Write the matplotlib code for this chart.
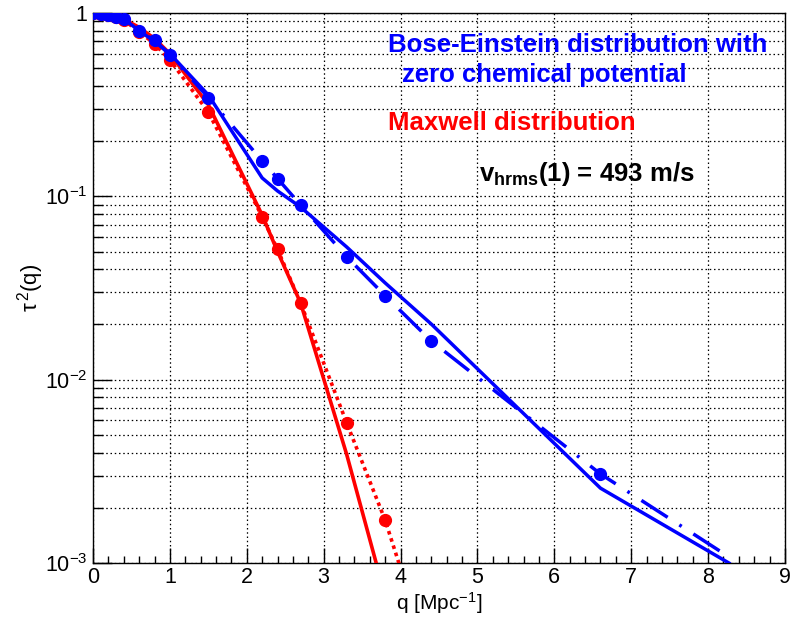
import matplotlib
matplotlib.use("Agg")
import matplotlib.pyplot as plt
import matplotlib.ticker as ticker
import numpy as np

plt.rcParams['font.family'] = ['Liberation Sans', 'DejaVu Sans']
plt.rcParams['mathtext.fontset'] = 'custom'
plt.rcParams['mathtext.rm'] = 'Liberation Sans'
plt.rcParams['mathtext.it'] = 'Liberation Sans:italic'
plt.rcParams['mathtext.bf'] = 'Liberation Sans:bold'

# measured points
q_pts = [0, 0.1, 0.2, 0.3, 0.4, 0.6, 0.8, 1.0, 1.5, 2.2, 2.4, 2.7, 3.3, 3.8, 4.4, 6.6]
bose_pts = [1.0, 0.991, 0.975, 0.955, 0.925, 0.80, 0.71, 0.59, 0.346, 0.156, 0.125,
            0.0897, 0.0468, 0.0287, 0.01625, 0.00306]
maxw_pts = [1.0, 0.99, 0.975, 0.95, 0.915, 0.79, 0.68, 0.555, 0.288, 0.0775, 0.0514,
            0.0262, 0.0058, 0.00171]

# model curves (solid)
q_bose_model = [0, 0.1, 0.2, 0.3, 0.4, 0.6, 0.8, 1.0, 1.5, 2.2, 2.4, 2.7, 3.3, 3.8, 4.4, 6.6, 8.27]
bose_model = [1.0, 0.99, 0.975, 0.955, 0.93, 0.80, 0.70, 0.60, 0.357, 0.126, 0.107,
              0.0874, 0.0529, 0.0337, 0.0201, 0.00256, 0.00100]
q_maxw_model = [0, 0.1, 0.2, 0.3, 0.4, 0.6, 0.8, 1.0, 1.5, 2.2, 2.4, 2.7, 3.3, 3.8]
maxw_model = [1.0, 0.995, 0.98, 0.955, 0.925, 0.835, 0.725, 0.60, 0.316, 0.079, 0.050,
              0.0262, 0.0039, 0.00066]

# fits through the points (dash-dot / dotted)
q_bose_fit = q_pts + [8.27]
bose_fit = bose_pts + [0.00108]
q_maxw_fit = q_pts[:14] + [4.4]
maxw_fit = maxw_pts + [0.00028]

blue = '#0000ff'
red = '#ff0000'

fig = plt.figure(figsize=(7.92, 6.2), dpi=100)
ax = fig.add_axes([93 / 792, 1 - 563 / 620, 692 / 792, 550 / 620])

ax.plot(q_maxw_model, maxw_model, color=red, lw=2.6, zorder=3)
ax.plot(q_maxw_fit, maxw_fit, color=red, lw=2.6, ls=(0, (1.0, 1.1)), zorder=3)
ax.plot(q_pts[:14], maxw_pts, 'o', color=red, ms=8.5, zorder=4)

ax.plot(q_bose_model, bose_model, color=blue, lw=2.5, zorder=5)
ax.plot(q_bose_fit, bose_fit, color=blue, lw=2.5, ls=(0, (9, 4, 0.8, 4)), zorder=5)
ax.plot(q_pts, bose_pts, 'o', color=blue, ms=8.5, zorder=6)

ax.set_yscale('log')
ax.set_xlim(0, 9)
ax.set_ylim(1e-3, 1)

ax.xaxis.set_major_locator(ticker.MultipleLocator(1))
ax.xaxis.set_minor_locator(ticker.MultipleLocator(0.2))
ax.yaxis.set_major_locator(ticker.FixedLocator([1e-3, 1e-2, 1e-1, 1]))
ax.yaxis.set_major_formatter(ticker.FixedFormatter(['$10^{-3}$', '$10^{-2}$', '$10^{-1}$', '1']))
ax.yaxis.set_minor_locator(ticker.LogLocator(base=10, subs=np.arange(2, 10), numticks=20))
ax.yaxis.set_minor_formatter(ticker.NullFormatter())

ax.tick_params(which='both', direction='in', top=False, right=False, labelsize=15.5, width=1)
ax.tick_params(axis='x', which='major', length=11, pad=3)
ax.tick_params(axis='x', which='minor', length=5)
ax.tick_params(axis='y', which='major', length=14, pad=4)
ax.tick_params(axis='y', which='minor', length=7)

grid_style = dict(color='black', lw=0.9, ls=(0, (1.2, 2.2)))
ax.grid(True, which='major', axis='both', **grid_style)
ax.grid(True, which='minor', axis='y', **grid_style)
ax.set_axisbelow(True)
for s in ax.spines.values():
    s.set_linewidth(1.0)

fig.text(439 / 792, 1 - 610 / 620, 'q [Mpc$^{-1}$]', fontsize=15, ha='center', va='baseline')
ax.set_ylabel('τ$^{\\,2}$(q)', fontsize=16)
ax.yaxis.set_label_coords(-0.068, 0.5)

ax.text(0.4263, 0.929, 'Bose-Einstein distribution with', transform=ax.transAxes,
        color=blue, fontsize=18.5, fontweight='bold', va='baseline')
ax.text(0.4465, 0.8745, 'zero chemical potential', transform=ax.transAxes,
        color=blue, fontsize=18.5, fontweight='bold', va='baseline')
ax.text(0.4263, 0.787, 'Maxwell distribution', transform=ax.transAxes,
        color=red, fontsize=18.5, fontweight='bold', va='baseline')
ax.text(0.5578, 0.6945, r'v$_{\mathbf{hrms}}$(1) = 493 m/s', transform=ax.transAxes,
        color='black', fontsize=18.5, fontweight='bold', va='baseline')

fig.savefig('out.png', dpi=100)
